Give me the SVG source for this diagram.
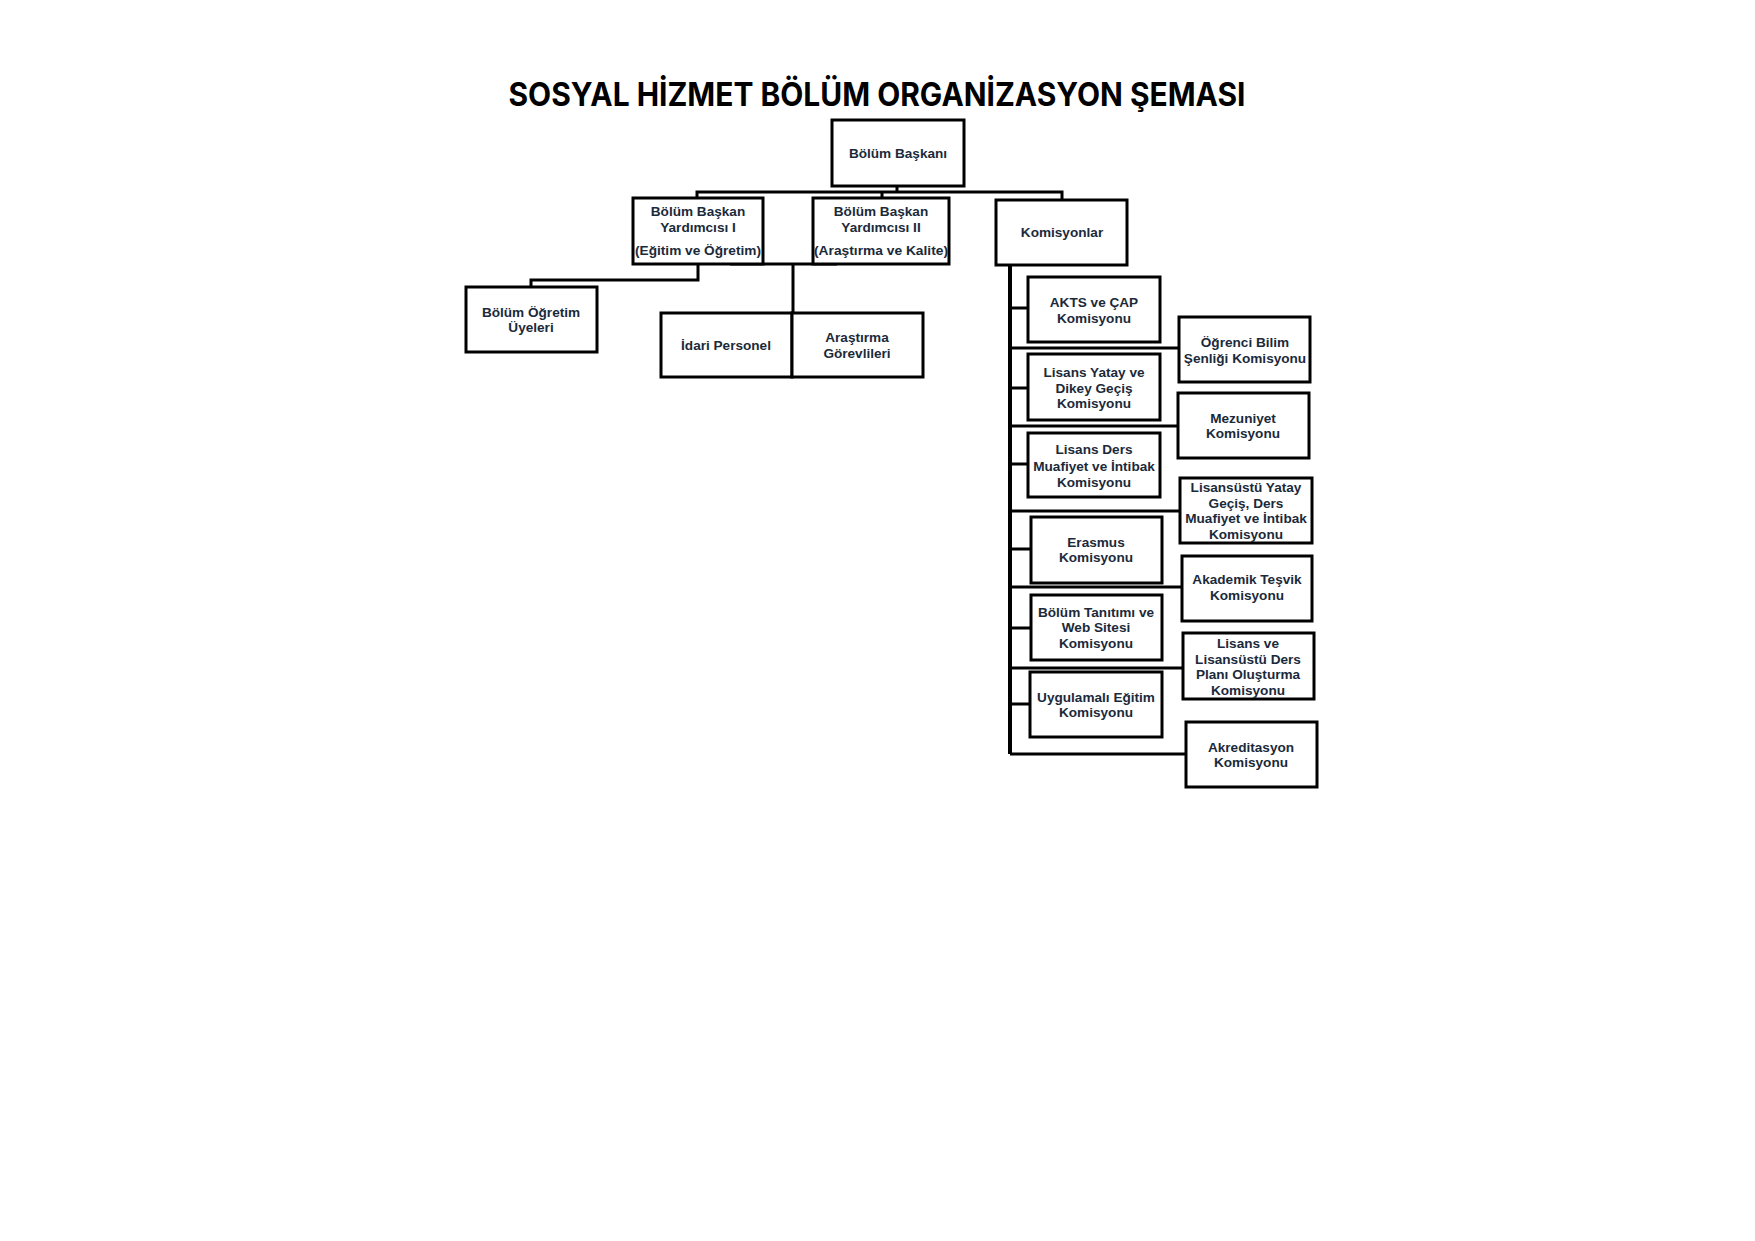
<svg xmlns="http://www.w3.org/2000/svg" width="1755" height="1241" viewBox="0 0 1755 1241">
<style>
.box{fill:#fff;stroke:#000;stroke-width:3}
.c{fill:none;stroke:#000;stroke-width:3;stroke-linejoin:miter}
.t{stroke-width:4}
.l{font-family:"Liberation Sans",Arial,sans-serif;font-weight:700;font-size:13.6px;fill:#1b2a3a;text-anchor:middle}
.title{font-family:Inter,"Liberation Sans",sans-serif;font-weight:700;font-size:32px;fill:#000;text-anchor:middle}
</style>
<rect width="1755" height="1241" fill="#fff"/>
<text class="title" x="877" y="106" textLength="737" lengthAdjust="spacingAndGlyphs">SOSYAL HİZMET BÖLÜM ORGANİZASYON ŞEMASI</text>
<g id="connectors">
<path class="c" d="M897 186V192M697 198V192H1062V200M882 192V198"/>
<path class="c" d="M698 264V280H531V287"/>
<path class="c" d="M730 264H837M793 264V378"/>
<path class="c t" d="M1010 265V754"/>
<path class="c" d="M1010 308H1028M1010 388H1028M1010 464H1028M1010 549H1031M1010 628H1031M1010 704H1030"/>
<path class="c" d="M1010 348H1179M1010 426H1178M1010 511H1180M1010 587H1182M1010 668H1183M1010 754H1186"/>
</g>
<g id="baskan"><rect class="box" x="832" y="120" width="132" height="66"/><text class="l" x="898" y="158">Bölüm Başkanı</text></g>
<g id="bby1"><rect class="box" x="633" y="198" width="130" height="66"/><text class="l" x="698" y="216">Bölüm Başkan</text><text class="l" x="698" y="232">Yardımcısı I</text><text class="l" x="698" y="255" textLength="126" lengthAdjust="spacingAndGlyphs">(Eğitim ve Öğretim)</text></g>
<g id="bby2"><rect class="box" x="813" y="198" width="136" height="66"/><text class="l" x="881" y="216">Bölüm Başkan</text><text class="l" x="881" y="232">Yardımcısı II</text><text class="l" x="881" y="255" textLength="134" lengthAdjust="spacingAndGlyphs">(Araştırma ve Kalite)</text></g>
<g id="komisyonlar"><rect class="box" x="996" y="200" width="131" height="65"/><text class="l" x="1062" y="237">Komisyonlar</text></g>
<g id="ogretim"><rect class="box" x="466" y="287" width="131" height="65"/><text class="l" x="531" y="317">Bölüm Öğretim</text><text class="l" x="531" y="332">Üyeleri</text></g>
<g id="idari"><rect class="box" x="661" y="313" width="131" height="64"/><text class="l" x="726" y="350">İdari Personel</text></g>
<g id="arastirma"><rect class="box" x="792" y="313" width="131" height="64"/><text class="l" x="857" y="342">Araştırma</text><text class="l" x="857" y="358">Görevlileri</text></g>
<g id="akts"><rect class="box" x="1028" y="277" width="132" height="65"/><text class="l" x="1094" y="307">AKTS ve ÇAP</text><text class="l" x="1094" y="323">Komisyonu</text></g>
<g id="ogrenci"><rect class="box" x="1179" y="317" width="131" height="65"/><text class="l" x="1245" y="347">Öğrenci Bilim</text><text class="l" x="1245" y="363">Şenliği Komisyonu</text></g>
<g id="yatay"><rect class="box" x="1028" y="354" width="132" height="66"/><text class="l" x="1094" y="377">Lisans Yatay ve</text><text class="l" x="1094" y="393">Dikey Geçiş</text><text class="l" x="1094" y="408">Komisyonu</text></g>
<g id="mezuniyet"><rect class="box" x="1178" y="393" width="131" height="65"/><text class="l" x="1243" y="423">Mezuniyet</text><text class="l" x="1243" y="438">Komisyonu</text></g>
<g id="ders"><rect class="box" x="1028" y="433" width="132" height="64"/><text class="l" x="1094" y="454">Lisans Ders</text><text class="l" x="1094" y="471">Muafiyet ve İntibak</text><text class="l" x="1094" y="487">Komisyonu</text></g>
<g id="lu-yatay"><rect class="box" x="1180" y="478" width="132" height="65"/><text class="l" x="1246" y="492">Lisansüstü Yatay</text><text class="l" x="1246" y="508">Geçiş, Ders</text><text class="l" x="1246" y="523">Muafiyet ve İntibak</text><text class="l" x="1246" y="539">Komisyonu</text></g>
<g id="erasmus"><rect class="box" x="1031" y="517" width="131" height="66"/><text class="l" x="1096" y="547">Erasmus</text><text class="l" x="1096" y="562">Komisyonu</text></g>
<g id="akademik"><rect class="box" x="1182" y="556" width="130" height="65"/><text class="l" x="1247" y="584">Akademik Teşvik</text><text class="l" x="1247" y="600">Komisyonu</text></g>
<g id="tanitim"><rect class="box" x="1031" y="595" width="131" height="65"/><text class="l" x="1096" y="617">Bölüm Tanıtımı ve</text><text class="l" x="1096" y="632">Web Sitesi</text><text class="l" x="1096" y="648">Komisyonu</text></g>
<g id="plan"><rect class="box" x="1183" y="633" width="131" height="66"/><text class="l" x="1248" y="648">Lisans ve</text><text class="l" x="1248" y="664">Lisansüstü Ders</text><text class="l" x="1248" y="679">Planı Oluşturma</text><text class="l" x="1248" y="695">Komisyonu</text></g>
<g id="uygulamali"><rect class="box" x="1030" y="672" width="132" height="65"/><text class="l" x="1096" y="702">Uygulamalı Eğitim</text><text class="l" x="1096" y="717">Komisyonu</text></g>
<g id="akreditasyon"><rect class="box" x="1186" y="722" width="131" height="65"/><text class="l" x="1251" y="752">Akreditasyon</text><text class="l" x="1251" y="767">Komisyonu</text></g>
</svg>
